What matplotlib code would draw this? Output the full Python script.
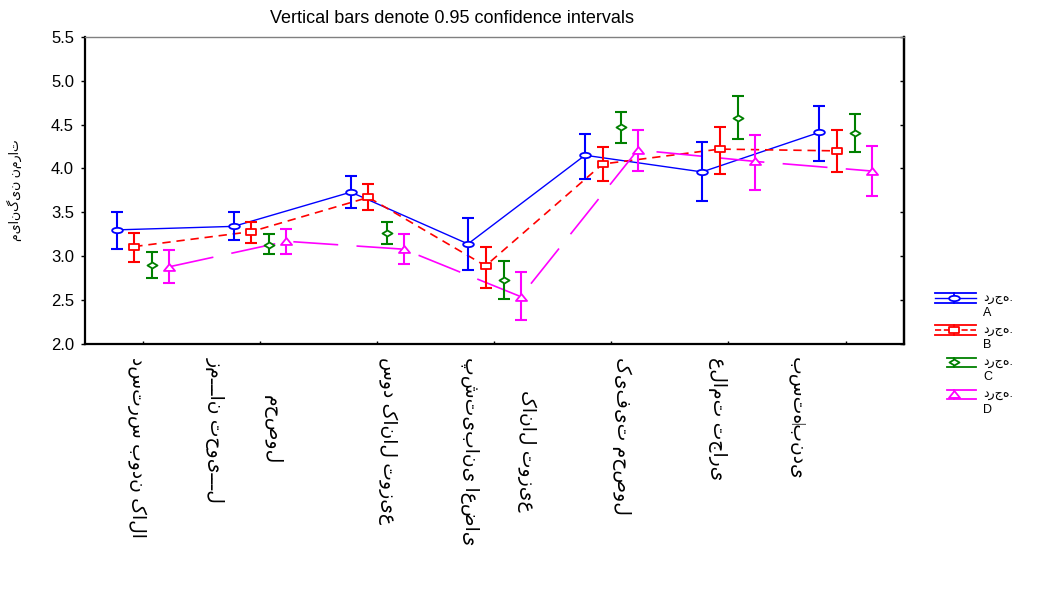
"""
Rata-rata nilai per atribut untuk 4 kelompok (A-D) dengan interval kepercayaan 0.95.
"""

import numpy as np
import matplotlib

matplotlib.use("Agg")
import matplotlib.pyplot as plt
from matplotlib.path import Path
from matplotlib.lines import Line2D
from matplotlib.legend_handler import HandlerBase
from matplotlib.transforms import ScaledTranslation

plt.rcParams["font.family"] = ["Liberation Sans", "DejaVu Sans"]

# --- DATA ---
CATEGORIES = [
    ["دسترس بودن کالا"],
    ["زمـــان تحویـــل", "محصول"],
    ["سود کانال توزیع"],
    ["پشتیبانی اعضای", "کانال توزیع"],
    ["کیفیت محصول"],
    ["علامت تجاری"],
    ["بسته‌بندی"],
]
GROUP_LABELS = ["درجه.\nA", "درجه.\nB", "درجه.\nC", "درجه.\nD"]

MEAN_A = [3.30, 3.34, 3.73, 3.14, 4.15, 3.96, 4.41]
LOW_A = [3.08, 3.18, 3.55, 2.84, 3.88, 3.63, 4.09]
HIGH_A = [3.50, 3.50, 3.91, 3.44, 4.39, 4.30, 4.71]

MEAN_B = [3.11, 3.28, 3.67, 2.89, 4.05, 4.22, 4.20]
LOW_B = [2.93, 3.15, 3.53, 2.64, 3.86, 3.94, 3.96]
HIGH_B = [3.26, 3.39, 3.82, 3.11, 4.24, 4.47, 4.44]

MEAN_C = [2.90, 3.13, 3.27, 2.73, 4.47, 4.57, 4.40]
LOW_C = [2.75, 3.02, 3.14, 2.51, 4.29, 4.33, 4.19]
HIGH_C = [3.05, 3.25, 3.39, 2.95, 4.64, 4.82, 4.62]

MEAN_D = [2.88, 3.17, 3.08, 2.54, 4.21, 4.08, 3.97]
LOW_D = [2.69, 3.02, 2.91, 2.27, 3.97, 3.75, 3.69]
HIGH_D = [3.07, 3.31, 3.25, 2.82, 4.44, 4.38, 4.25]

Y_TICKS = [2.0, 2.5, 3.0, 3.5, 4.0, 4.5, 5.0, 5.5]

TITLE = "Vertical bars denote 0.95 confidence intervals"
Y_LABEL = "میانگین نمرات"


# --- MARKER (agak gepeng seperti aslinya) ---
def flat_marker(verts, sy):
    verts = np.array(verts, dtype=float) * [1.0, sy]
    codes = [Path.MOVETO] + [Path.LINETO] * (len(verts) - 2) + [Path.CLOSEPOLY]
    return Path(verts, codes)


circle = Path.unit_circle()
M_CIRCLE = Path(circle.vertices * [1.0, 0.5], circle.codes)
M_SQUARE = flat_marker([(-1, -1), (1, -1), (1, 1), (-1, 1), (-1, -1)], 0.65)
M_DIAMOND = flat_marker([(-1, 0), (0, 1), (1, 0), (0, -1), (-1, 0)], 0.6)
M_TRIANGLE = flat_marker([(-1, -1), (0, 1), (1, -1), (-1, -1)], 0.62)

STYLES = [
    dict(color="#0000FF", ls="-", dashes=None, lw=1.0, marker=M_CIRCLE, ms=7.7, dx=-0.225, start=0.0),
    dict(color="#FF0000", ls="--", dashes=(5, 3.5), lw=1.2, marker=M_SQUARE, ms=7.2, dx=-0.075, start=0.0),
    dict(color="#008000", ls="none", dashes=None, lw=1.2, marker=M_DIAMOND, ms=7.2, dx=0.08, start=0.29),
    dict(color="#FF00FF", ls="none", dashes=None, lw=1.2, marker=M_TRIANGLE, ms=8.0, dx=0.225, start=0.29),
]
LINE_D = dict(dashes=(27, 11))  # garis putus-putus panjang untuk D (tidak tampil di legenda)


class CIHandler(HandlerBase):
    """Legenda gaya Statistica: garis + marker + dua garis batas CI."""

    def __init__(self, start=0.0, lift=5.6, half=3.4):
        super().__init__()
        self.start = start
        self.lift = lift
        self.half = half

    def create_artists(self, legend, orig_handle, xdescent, ydescent, width, height, fontsize, trans):
        c = orig_handle.get_color()
        x0 = -xdescent + self.start * width
        x1 = -xdescent + width
        xm = -xdescent + 0.46 * width
        yc = -ydescent + height / 2 + self.lift
        arts = [
            Line2D([x0, x1], [yc + self.half] * 2, color=c, lw=1.3),
            Line2D([x0, x1], [yc - self.half] * 2, color=c, lw=1.3),
            Line2D([xm, xm], [yc - self.half, yc + self.half], color=c, lw=1.3),
        ]
        if orig_handle.get_linestyle() not in ("None", "none", ""):
            mid = Line2D([x0, x1], [yc, yc], color=c, lw=orig_handle.get_linewidth(),
                         ls=orig_handle.get_linestyle())
            arts.append(mid)
        arts.append(Line2D([xm], [yc], ls="none", marker=orig_handle.get_marker(),
                           ms=orig_handle.get_markersize(), mfc="white", mec=c, mew=1.3))
        for a in arts:
            a.set_transform(trans)
        return arts


fig = plt.figure(figsize=(10.37, 6.03), dpi=100)
ax = fig.add_axes([0.0815, 0.4295, 0.7903, 0.5096])

x = np.arange(1, len(CATEGORIES) + 1)
series = [(MEAN_A, LOW_A, HIGH_A), (MEAN_B, LOW_B, HIGH_B), (MEAN_C, LOW_C, HIGH_C), (MEAN_D, LOW_D, HIGH_D)]

handles = []
for (mean, low, high), st in zip(series, STYLES):
    mean = np.array(mean)
    xs = x + st["dx"]
    yerr = [mean - np.array(low), np.array(high) - mean]
    ax.errorbar(xs, mean, yerr=yerr, fmt="none", ecolor=st["color"], elinewidth=1.5,
                capsize=4, capthick=1.5, zorder=3)
    if st["ls"] != "none":
        (ln,) = ax.plot(xs, mean, color=st["color"], lw=st["lw"], ls=st["ls"], zorder=2)
        if st["dashes"]:
            ln.set_dashes(st["dashes"])
    ax.plot(xs, mean, ls="none", marker=st["marker"], ms=st["ms"], mfc="white",
            mec=st["color"], mew=1.3, zorder=4)
    handles.append(Line2D([], [], color=st["color"], ls=st["ls"], lw=st["lw"],
                          marker=st["marker"], ms=st["ms"]))

# garis D: putus-putus panjang
(ln_d,) = ax.plot(x + STYLES[3]["dx"], MEAN_D, color=STYLES[3]["color"], lw=1.2, zorder=2)
ln_d.set_dashes(LINE_D["dashes"])

# --- SUMBU ---
ax.set_xlim(0.5, 7.5)
ax.set_ylim(2.0, 5.5)
ax.set_yticks(Y_TICKS)
ax.set_yticklabels([f"{v:.1f}" for v in Y_TICKS], fontsize=12)
ax.tick_params(axis="y", direction="out", length=3, width=1, pad=4.5)

tick_text = ["\n".join(reversed(lines)) for lines in CATEGORIES]
ax.set_xticks(x)
ax.set_xticklabels(tick_text, rotation=270, va="top", ha="center", fontsize=13.5, linespacing=3.7)
ax.tick_params(axis="x", direction="in", length=2, width=1, pad=9)

# geser label kategori seperti posisi aslinya (piksel)
LABEL_SHIFT_PX = [-6, -16, 10, 4, 10, -11, -49]
for lab, dx in zip(ax.get_xticklabels(), LABEL_SHIFT_PX):
    lab.set_transform(lab.get_transform() + ScaledTranslation(dx / 100, 0, fig.dpi_scale_trans))

sec = ax.secondary_yaxis("right")
sec.set_yticks(Y_TICKS)
sec.tick_params(direction="in", length=3, width=1, labelright=False)
sec.spines["right"].set_linewidth(1.6)

for s in ["left", "bottom", "right"]:
    ax.spines[s].set_linewidth(1.6)
    ax.spines[s].set_color("black")
ax.spines["top"].set_linewidth(1.0)
ax.spines["top"].set_color("#808080")

ax.set_ylabel(Y_LABEL, fontsize=9)
ax.yaxis.set_label_coords(-0.076, 0.5)

fig.text(0.436, 0.970, TITLE, ha="center", va="center", fontsize=13)

# --- LEGENDA ---
hmap = {h: CIHandler(start=st["start"]) for h, st in zip(handles, STYLES)}
leg = fig.legend(handles, GROUP_LABELS, handler_map=hmap, loc="upper left",
                 bbox_to_anchor=(935 / 1037, 1 - 292 / 603), frameon=False, fontsize=9,
                 borderpad=0, borderaxespad=0, handlelength=3.3, handletextpad=0.55,
                 labelspacing=0.4)
for t in leg.get_texts():
    t.set_linespacing(1.35)

fig.savefig("out.png", dpi=100)
